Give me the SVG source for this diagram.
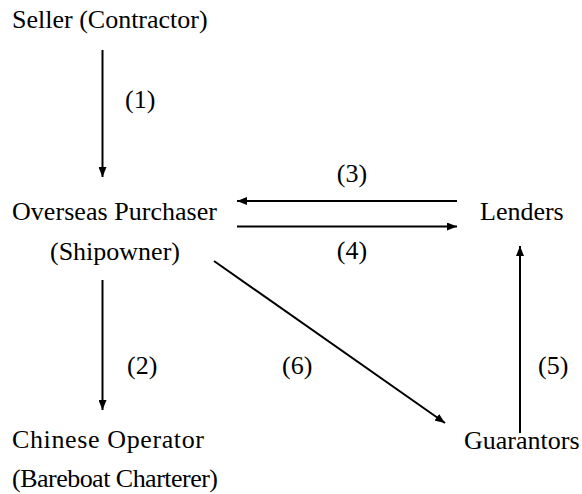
<svg xmlns="http://www.w3.org/2000/svg" width="582" height="494" viewBox="0 0 582 494">
<style>
text{font-size:26px;fill:#000}
.c{stroke:#000;stroke-width:2;fill:none}
</style>
<defs>
<marker id="ah" viewBox="0 0 10 8" refX="10" refY="4" markerWidth="10" markerHeight="8" markerUnits="userSpaceOnUse" orient="auto">
<path d="M0,0 L10,4 L0,8 Z" fill="#000"/>
</marker>
</defs>
<rect width="582" height="494" fill="#fff"/>
<g font-family="Liberation Serif, Times New Roman, serif">
<g id="seller"><text x="12" y="28">Seller (Contractor)</text></g>
<g id="purchaser"><text x="12" y="220" textLength="205">Overseas Purchaser</text><text x="50" y="260">(Shipowner)</text></g>
<g id="lenders"><text x="480" y="220">Lenders</text></g>
<g id="operator"><text x="12" y="448" textLength="192">Chinese Operator</text><text x="12" y="487" textLength="206">(Bareboat Charterer)</text></g>
<g id="guarantors"><text x="464" y="449">Guarantors</text></g>
<g id="connectors">
<line class="c" x1="102.5" y1="50" x2="102.5" y2="177" marker-end="url(#ah)"/>
<line class="c" x1="102.5" y1="280" x2="102.5" y2="410" marker-end="url(#ah)"/>
<line class="c" x1="457" y1="201" x2="237" y2="201" marker-end="url(#ah)"/>
<line class="c" x1="237" y1="226.5" x2="457" y2="226.5" marker-end="url(#ah)"/>
<line class="c" x1="520" y1="433" x2="520" y2="246" marker-end="url(#ah)"/>
<line class="c" x1="214" y1="261" x2="445" y2="423" marker-end="url(#ah)"/>
<text x="125" y="108">(1)</text>
<text x="127" y="374">(2)</text>
<text x="352" y="182" text-anchor="middle">(3)</text>
<text x="352" y="259" text-anchor="middle">(4)</text>
<text x="538" y="374">(5)</text>
<text x="282" y="374">(6)</text>
</g>
</g>
</svg>
